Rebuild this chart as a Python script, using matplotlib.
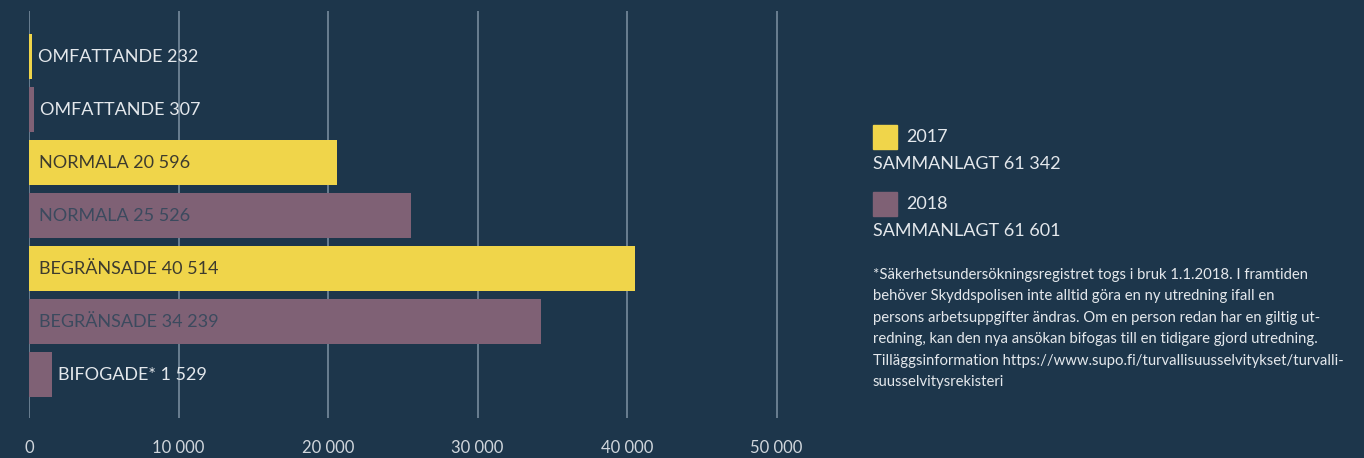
import numpy as np
import matplotlib.pyplot as plt

categories = ["OMFATTANDE", "OMFATTANDE", "NORMALA", "NORMALA",
              "BEGRÄNSADE", "BEGRÄNSADE", "BIFOGADE*"]
years = [2017, 2018, 2017, 2018, 2017, 2018, 2018]
values = [232, 307, 20596, 25526, 40514, 34239, 1529]
xticks = [0, 10000, 20000, 30000, 40000, 50000]
totals = {2017: 61342, 2018: 61601}
note = ("*Säkerhetsundersökningsregistret togs i bruk 1.1.2018. I framtiden\n"
        "behöver Skyddspolisen inte alltid göra en ny utredning ifall en\n"
        "persons arbetsuppgifter ändras. Om en person redan har en giltig ut-\n"
        "redning, kan den nya ansökan bifogas till en tidigare gjord utredning.\n"
        "Tilläggsinformation https://www.supo.fi/turvallisuusselvitykset/turvalli-\n"
        "suusselvitysrekisteri")

bg = "#1d364b"
colors = {2017: "#f0d54a", 2018: "#7f6175"}
inside_text = {2017: "#3d3b2e", 2018: "#3b4a5e"}
light = "#e4e8ec"

plt.rcParams['font.family'] = ['Lato', 'DejaVu Sans']

def fmt(v):
    return f"{v:,}".replace(",", " ")

W, H = 1364, 458
fig = plt.figure(figsize=(W / 100, H / 100), dpi=100, facecolor=bg)
x0, x1 = 29, 29 + 52000 * 0.01495
ax = fig.add_axes([x0 / W, 1 - 418 / H, (x1 - x0) / W, (418 - 11) / H])
ax.set_facecolor(bg)

y = np.arange(len(values))
ax.barh(y, values, height=0.85, color=[colors[yr] for yr in years], zorder=2)
ax.set_xlim(0, 52000)
ax.set_ylim(6.82, -0.868)

for i, (c, v, yr) in enumerate(zip(categories, values, years)):
    txt = f"{c} {fmt(v)}"
    if v > 10000:
        ax.annotate(txt, (0, i), xytext=(10, 0), textcoords="offset pixels",
                    va="center", ha="left", fontsize=13, color=inside_text[yr], zorder=3)
    else:
        ax.annotate(txt, (v, i), xytext=(6, 0), textcoords="offset pixels",
                    va="center", ha="left", fontsize=13, color=light, zorder=3)

ax.set_xticks(xticks)
ax.set_xticklabels([fmt(t) for t in xticks], fontsize=12, color="#d0d6dc")
ax.tick_params(axis="x", length=0, pad=16)
ax.set_yticks([])
ax.grid(axis="x", color="#6f8496", linewidth=1.3, zorder=0)
ax.set_axisbelow(True)
for s in ax.spines.values():
    s.set_visible(False)

# legend block
for k, (yr, top) in enumerate([(2017, 125), (2018, 192)]):
    fig.patches.append(plt.Rectangle((873 / W, 1 - (top + 24) / H), 24 / W, 24 / H,
                                     transform=fig.transFigure, color=colors[yr]))
    fig.text(906 / W, 1 - (top + 12) / H, str(yr), fontsize=13, color=light, va="center")
    fig.text(873 / W, 1 - (top + 39) / H, f"SAMMANLAGT {fmt(totals[yr])}",
             fontsize=13, color=light, va="center")

fig.text(873 / W, 1 - 268 / H, note, fontsize=10.7, color=light, va="top",
         linespacing=1.68)

fig.savefig("out.png", dpi=100, facecolor=bg)
